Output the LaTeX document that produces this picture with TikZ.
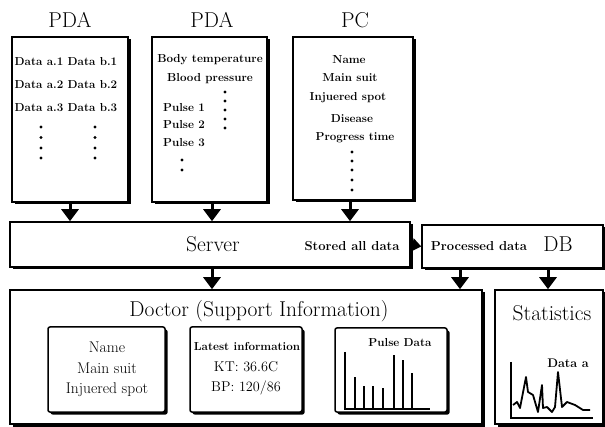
\documentclass[tikz,border=0pt]{standalone}
\usetikzlibrary{arrows.meta,shadows}
\begin{document}
\begin{tikzpicture}[x=1pt,y=-1pt,
  frame/.style={draw, fill=white, line width=1.5pt, inner sep=0pt,
    drop shadow={shadow xshift=2.5pt, shadow yshift=-2.5pt, opacity=1, fill=black}},
  inbox/.style={frame, rounded corners=2pt},
  head/.style={font=\fontsize{21.5}{23}\selectfont},
  mid/.style={font=\fontsize{15.5}{17}\selectfont},
  small/.style={font=\fontsize{11.6}{13}\selectfont\bfseries},
  dn/.style={line width=3pt, -{Triangle[width=17pt,length=12pt]}},
  rt/.style={line width=2pt, -{Triangle[width=13pt,length=9pt]}},
  dot/.style={fill=black, draw=none},
  plot/.style={line width=1.8pt, line join=round}]
\useasboundingbox (0,0) rectangle (605,427);

% top boxes
\node[head] (t1) at (70,20) {PDA};
\node[head] (t2) at (212,20) {PDA};
\node[head] (t3) at (355,20) {PC};
\node[frame, minimum width=116pt, minimum height=165pt] (pda1) at (70,119.5) {};
\node[frame, minimum width=115pt, minimum height=165pt] (pda2) at (209.5,119.5) {};
\node[frame, minimum width=120pt, minimum height=163pt] (pc) at (353,118.5) {};

% PDA1 contents
\node[small] (a1) at (66,62) {Data a.1 Data b.1};
\node[small] (a2) at (66,85) {Data a.2 Data b.2};
\node[small] (a3) at (66,108) {Data a.3 Data b.3};
\foreach \yy in {127,137.5,148,158} {
  \fill[dot] (41,\yy) circle (1.6pt);
  \fill[dot] (95,\yy) circle (1.6pt);
}
% PDA2 contents
\node[small] (b1) at (210,60) {Body temperature};
\node[small] (b2) at (210,79) {Blood pressure};
\node[small] (b3) at (184,108) {Pulse 1};
\node[small] (b4) at (184,125) {Pulse 2};
\node[small] (b5) at (184,143) {Pulse 3};
\foreach \yy in {92,101,110,119,128} \fill[dot] (225,\yy) circle (1.6pt);
\foreach \yy in {160,170} \fill[dot] (182,\yy) circle (1.6pt);
% PC contents
\node[small] (c1) at (349,60) {Name};
\node[small] (c2) at (350,78) {Main suit};
\node[small] (c3) at (348,98) {Injuered spot};
\node[small] (c4) at (352,119) {Disease};
\node[small] (c5) at (355,138) {Progress time};
\foreach \yy in {152,161,170,180,190} \fill[dot] (352,\yy) circle (1.6pt);

% server and DB
\node[frame, minimum width=400pt, minimum height=45pt] (server) at (210,244.5) {};
\node[frame, minimum width=181pt, minimum height=43pt] (db) at (512.5,246.5) {};
\node[head] (st) at (213,244) {Server};
\node[small, font=\fontsize{13}{15}\selectfont\bfseries] (sad) at (352,246) {Stored all data};
\node[small, font=\fontsize{13}{15}\selectfont\bfseries] (pd) at (479,246) {Processed data};
\node[head] (dbl) at (558,244) {DB};

\draw[dn] (pda1.south) -- (pda1.south |- server.north);
\draw[dn] (pda2.south -| t2) -- (t2 |- server.north);
\draw[dn] (pc.south -| 350,0) -- (350,0 |- server.north);
\draw[rt] (server.east) -- (db.west);

% doctor and statistics
\node[frame, minimum width=472pt, minimum height=134pt] (doc) at (246,357) {};
\node[frame, minimum width=108pt, minimum height=134pt] (stat) at (549,357) {};
\node[head] (doct) at (259,311) {Doctor (Support Information)};
\node[head] (statt) at (552,313) {Statistics};

\draw[dn] (server.south -| 212,0) -- (212,0 |- doc.north);
\draw[dn] (db.south -| 460,0) -- (460,0 |- doc.north);
\draw[dn] (db.south -| 548,0) -- (548,0 |- stat.north);

% inner boxes
\node[inbox, minimum width=117pt, minimum height=85pt] (nb) at (106.5,369.5) {};
\node[inbox, minimum width=112pt, minimum height=85pt] (lb) at (246,369.5) {};
\node[inbox, minimum width=112pt, minimum height=84pt] (pb) at (391,370) {};

\node[mid] (n1) at (107,347) {Name};
\node[mid] (n2) at (107,368) {Main suit};
\node[mid] (n3) at (107,390) {Injuered spot};

\node[small, font=\fontsize{11.6}{13}\selectfont\bfseries] (l1) at (247,346) {Latest information};
\node[mid, font=\fontsize{14.2}{16}\selectfont] (l2) at (246,367) {KT: 36.6C};
\node[mid, font=\fontsize{14.2}{16}\selectfont] (l3) at (246,388) {BP: 120/86};

\node[small] (pt) at (400,343) {Pulse Data};
\draw[line width=1.7pt] (345,352) -- (345,409) -- (430,409);
\foreach \xx/\yy in {355/377,364/386,373/386,383/388,394/355,403/360,412/373}
  \draw[line width=1.7pt] (\xx,409) -- (\xx,\yy);

% statistics chart
\node[small, font=\fontsize{12.5}{14}\selectfont\bfseries] (da) at (568,363) {Data a};
\draw[line width=1.7pt] (511,362) -- (511,418) -- (593,418);
\draw[plot] (513,405) -- (517,402) -- (520,408) -- (526,377) -- (528,392) -- (533,395)
  -- (538,412) -- (542,385) -- (543,408) -- (547,407) -- (552,412) -- (555,407)
  -- (558,372) -- (562,407) -- (567,402) -- (575,405) -- (583,410) -- (590,410);
\end{tikzpicture}
\end{document}
